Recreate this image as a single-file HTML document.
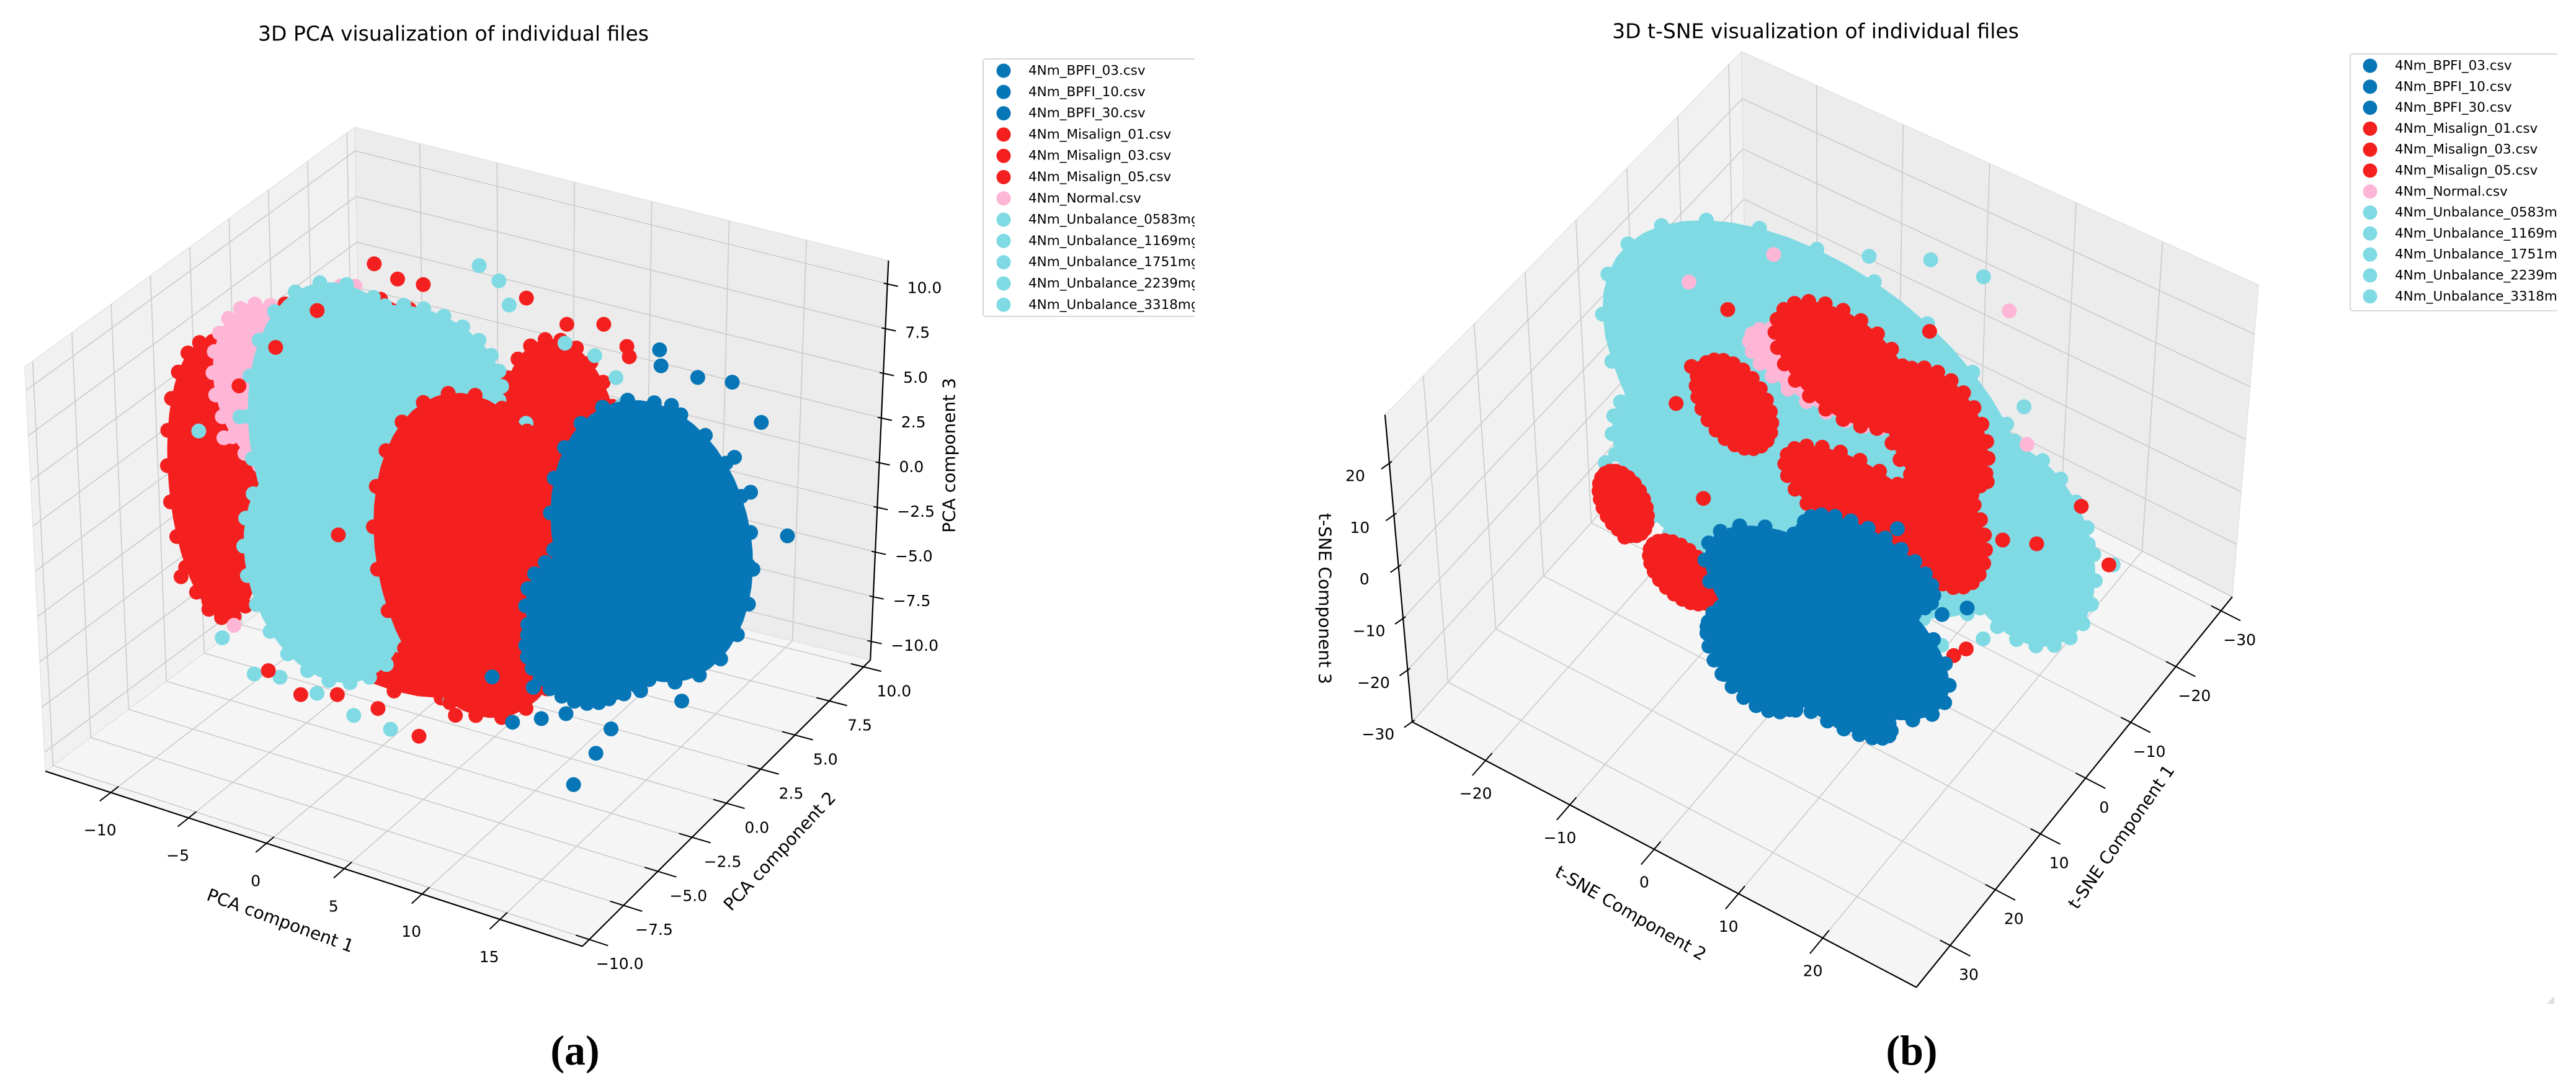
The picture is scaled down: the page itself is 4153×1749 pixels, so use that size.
<!DOCTYPE html>
<html>
<head>
<meta charset="utf-8">
<style>
html,body{margin:0;padding:0;background:#fff;}
svg{display:block;}
text{font-family:"DejaVu Sans","Liberation Sans",sans-serif;fill:#000;}
</style>
</head>
<body>
<svg id="fig" xmlns="http://www.w3.org/2000/svg" width="4153" height="1749" viewBox="0 0 4153 1749">
<defs>
<clipPath id="clipA"><rect x="0" y="0" width="1926" height="1749"/></clipPath>
<clipPath id="clipB"><rect x="2076" y="0" width="2046" height="1749"/></clipPath>
</defs>
<g id="panelA" clip-path="url(#clipA)"></g>
<g id="panelB" clip-path="url(#clipB)"></g>
<text x="927" y="1716" font-size="68" font-weight="bold" text-anchor="middle" style="font-family:'Liberation Serif',serif">(a)</text>
<text x="3082" y="1716" font-size="68" font-weight="bold" text-anchor="middle" style="font-family:'Liberation Serif',serif">(b)</text>
<polygon points="4118,1606 4106,1618 4118,1618" fill="#ddd"/>
</svg>
<script>
// ---------------- data ----------------
const seriesNames = ['4Nm_BPFI_03.csv','4Nm_BPFI_10.csv','4Nm_BPFI_30.csv','4Nm_Misalign_01.csv','4Nm_Misalign_03.csv','4Nm_Misalign_05.csv','4Nm_Normal.csv','4Nm_Unbalance_0583mg.csv','4Nm_Unbalance_1169mg.csv','4Nm_Unbalance_1751mg.csv','4Nm_Unbalance_2239mg.csv','4Nm_Unbalance_3318mg.csv'];
const seriesGroup = ['blue','blue','blue','red','red','red','pink','cyan','cyan','cyan','cyan','cyan'];
const groupColor = {blue:'#0776b6', red:'#f42020', pink:'#fdb6d6', cyan:'#7fdae4'};

// PCA panel
const pcaXTicks = [-10,-5,0,5,10,15];
const pcaXTickLabels = ['\u221210','\u22125','0','5','10','15'];
const pcaYTicks = [-10,-7.5,-5,-2.5,0,2.5,5,7.5,10];
const pcaYTickLabels = ['\u221210.0','\u22127.5','\u22125.0','\u22122.5','0.0','2.5','5.0','7.5','10.0'];
const pcaZTicks = [-10,-7.5,-5,-2.5,0,2.5,5,7.5,10];
const pcaZTickLabels = ['\u221210.0','\u22127.5','\u22125.0','\u22122.5','0.0','2.5','5.0','7.5','10.0'];
const pcaPlaneY = 0;
const pcaCoreSeries = ['red','red','red','red','pink','cyan','cyan','cyan','red','blue','blue','blue'];
const pcaCoreX = [-1.64,-12.96,-2.19,9.15,-9.19,-4.33,-5.95,0.53,3.75,15.07,11.3,10.22];
const pcaCoreZ = [0.37,-1.20,7.88,6.02,4.67,2.78,-4.48,8.30,-1.39,2.09,-3.39,-5.56];
const pcaCoreRX = [12.0,3.2,7.0,3.8,3.8,6.5,5.4,4.9,6.6,6.5,4.3,3.2];
const pcaCoreRZ = [10.5,7.6,3.4,5.7,4.6,8.8,6.1,3.1,8.8,7.6,3.8,2.3];
const pcaCoreLayer = [0,0,0,0,1,2,2,2,3,4,4,4];
const pcaBlueX = [15.34,15.45,17.76,19.92,21.81,23.69,21.27,21.27,20.19,18.84,10.22,11.67,12.64,6.17,8.06,9.68,14.53,7.52,4.83,10.22,13.99,16.15,20.19,17.22,9.14];
const pcaBlueZ = [12.66,11.81,11.72,11.97,10.21,4.43,6.25,2.24,-0.11,-1.78,-12.44,-10.37,-8.80,-9.98,-9.33,-8.67,-6.25,-7.74,-7.81,5.90,7.18,9.80,7.91,-6.18,-6.21];
const pcaRedX = [-2.56,0.51,-1.10,6.98,9.52,11.83,13.29,13.45,-6.22,-8.92,-11.34,-13.77,-14.31,-15.55,-13.77,-12.96,-9.96,-7.84,-5.41,-2.72,-0.02,2.40,4.83,5.90,6.98,10.22,11.56,12.10,13.72,1.59,-5.14];
const pcaRedZ = [13.14,12.73,12.65,13.52,12.68,13.23,12.36,11.83,9.70,7.03,4.34,0.21,-1.91,-7.17,-8.08,-8.65,-11.0,-11.81,-11.23,-11.35,-12.23,-10.5,-9.15,-6.60,-3.48,-2.13,1.25,6.73,6.74,6.50,-2.38];
const pcaCyanX = [4.02,5.26,5.90,9.41,11.29,12.64,13.02,15.61,-12.96,-10.91,-9.19,-6.76,-4.34,-1.91,2.02,-14.04,-11.34,6.98];
const pcaCyanZ = [14.60,14.06,12.88,11.62,11.38,10.49,9.05,8.34,-9.91,-11.41,-11.18,-11.48,-12.12,-12.30,-9.83,1.21,2.63,6.64];
const pcaPinkX = [-10.80,-4.71,-3.80,-7.57,-11.77,-12.42,-12.15,-11.34];
const pcaPinkZ = [8.56,11.40,11.62,7.73,3.29,1.22,-9.03,5.49];

// t-SNE panel
const tsneC1Ticks = [-30,-20,-10,0,10,20,30];
const tsneC1TickLabels = ['\u221230','\u221220','\u221210','0','10','20','30'];
const tsneC2Ticks = [-20,-10,0,10,20];
const tsneC2TickLabels = ['\u221220','\u221210','0','10','20'];
const tsneC3Ticks = [-30,-20,-10,0,10,20];
const tsneC3TickLabels = ['\u221230','\u221220','\u221210','0','10','20'];
const tsnePlaneC1 = 0.3;
const tsneCoreSeries = ['cyan','cyan','cyan','pink','red','red','red','red','red','red','red','blue','blue','blue','blue'];
const tsneCoreC2 = [-0.97,22.52,-16.62,0.01,1.97,12.73,3.92,13.71,-10.75,-17.60,-24.45,0.01,-8.80,4.90,0.01];
const tsneCoreC3 = [13.54,8.49,-9.51,22.24,26.43,21.81,1.59,4.11,8.38,-30.09,-22.34,-25.28,-39.57,-9.51,-39.80];
const tsneCoreR2 = [24.95,8.8,8.8,8.8,7.8,5.9,8.8,4.9,4.4,3.9,2.9,14.7,5.9,7.8,7.8];
const tsneCoreR3 = [33.0,18.5,14.5,6.6,10.6,11.9,7.9,10.6,7.9,5.3,5.9,14.5,9.2,6.6,4.6];
const tsneCoreLayer = [0,0,0,1,2,2,2,2,2,2,2,3,3,3,3];
const tsneRedC2 = [-26.90,-24.45,-25.92,-22.50,-16.62,-14.18,-10.75,12.73,15.18,16.64,29.37,32.79,24.47,20.56,-11.24,-15.65,11.75,18.60,-14.67,-17.60];
const tsneRedC3 = [-22.31,-28.94,-18.90,-20.78,-27.99,-31.98,-29.90,-23.73,-19.13,-16.65,21.22,12.72,10.05,7.60,26.46,11.74,40.83,17.26,-13.22,2.91];
const tsneCyanC2 = [-4.88,4.90,11.75,17.62,-17.60,-21.03,-22.98,-24.94,-26.41,-18.58,-12.71,22.52,21.54,30.34,33.28,27.90,24.47,18.60,13.71,9.80];
const tsneCyanC3 = [43.41,49.89,54.69,56.08,24.03,14.70,6.54,-5.58,-15.99,-24.27,-23.54,34.89,27.52,14.74,13.11,-0.42,-5.79,-13.10,-18.33,-22.76];
const tsneBlueC2 = [-14.67,-12.71,-8.80,-3.90,1.48,5.39,8.33,10.28,13.71,16.64,8.33,-3.90];
const tsneBlueC3 = [-38.30,-45.98,-46.83,-45.56,-43.25,-37.49,-27.24,-19.74,-12.39,-8.73,-0.18,-11.24];
const tsnePinkC2 = [-5.86,-15.65,20.56,23.00,-4.39,-8.80];
const tsnePinkC3 = [41.57,28.24,51.82,28.03,17.40,15.21];

// ---------------- geometry ----------------
const KX = 1.33, KY = 1.12;
const NS = 'http://www.w3.org/2000/svg';
const pcaBox = {'000':[55,1110],'100':[706,1362],'110':[1055,950],'010':[440,770],'001':[30,528],'101':[712,765],'111':[1077,375],'011':[430,183]};
const tsneBox = {'000':[556,504],'100':[151,1039],'110':[762,1421],'010':[1145,859],'001':[550,74],'101':[118,597],'111':[762,982],'011':[1177,410]};

function makeProj(box, rx, ry, rz, ox){
  return function(x,y,z){
    const u=(x-rx[0])/(rx[1]-rx[0]), v=(y-ry[0])/(ry[1]-ry[0]), w=(z-rz[0])/(rz[1]-rz[0]);
    let X=0,Y=0;
    for(const a of [0,1])for(const b of [0,1])for(const d of [0,1]){
      const wt=(a?u:1-u)*(b?v:1-v)*(d?w:1-w);
      const p=box[''+a+b+d]; X+=wt*p[0]; Y+=wt*p[1];
    }
    return [ox+X*KX, Y*KY];
  };
}
function el(tag, parent){ const e=document.createElementNS(NS,tag); parent.appendChild(e); return e; }
function line(parent,p,q,stroke,w){
  const e=el('line',parent);
  e.setAttribute('x1',p[0].toFixed(1));e.setAttribute('y1',p[1].toFixed(1));
  e.setAttribute('x2',q[0].toFixed(1));e.setAttribute('y2',q[1].toFixed(1));
  e.setAttribute('stroke',stroke);e.setAttribute('stroke-width',w);
  return e;
}
function poly(parent,pts,fill,stroke){
  const e=el('polygon',parent);
  e.setAttribute('points',pts.map(p=>p[0].toFixed(1)+','+p[1].toFixed(1)).join(' '));
  e.setAttribute('fill',fill); e.setAttribute('stroke',stroke||'none');
  return e;
}
function txt(parent,x,y,s,size,anchor,rot){
  const e=el('text',parent);
  e.setAttribute('x',x.toFixed(1)); e.setAttribute('y',y.toFixed(1));
  e.setAttribute('font-size',size); e.setAttribute('text-anchor',anchor||'middle');
  e.setAttribute('dominant-baseline','central');
  if(rot) e.setAttribute('transform','rotate('+rot+' '+x.toFixed(1)+' '+y.toFixed(1)+')');
  e.textContent=s; return e;
}
function dot(parent,p,color){
  const c=el('circle',parent);
  c.setAttribute('cx',p[0].toFixed(1)); c.setAttribute('cy',p[1].toFixed(1));
  c.setAttribute('r',12); c.setAttribute('fill',color);
  return c;
}
function drawCore(parent, projFn, color){
  const g=el('g',parent);
  const pts=[];
  for(let i=0;i<48;i++){ pts.push(projFn(Math.cos(i/48*2*Math.PI), Math.sin(i/48*2*Math.PI))); }
  const pg=poly(g,pts,color);
  
  
  for(let i=0;i<pts.length;i+=2){
    const c=dot(g,pts[i],color);
    
    
  }
  return g;
}
function drawLegend(parent, x0, y0, w, h, mx, tx, ys, dy){
  const g=el('g',parent);
  
  
  const r=el('rect',g);
  r.setAttribute('x',x0);r.setAttribute('y',y0);r.setAttribute('width',w);r.setAttribute('height',h);
  r.setAttribute('rx',4);r.setAttribute('fill','#fff');r.setAttribute('stroke','#d6d6d6');r.setAttribute('stroke-width',2);
  
  
  seriesNames.forEach((n,i)=>{
    const c=dot(g,[mx,ys+i*dy],groupColor[seriesGroup[i]]);
    c.setAttribute('r',11.5);
    
    
    const t=txt(g,tx,ys+i*dy,n,21.5,'start');
    
    
  });
}

// ---------------- PCA panel ----------------
(function(){
  const G=document.getElementById('panelA');
  const RX=[-14.2,20.3], RY=[-10.5,10.5], RZ=[-11.05,11.3];
  const P=makeProj(pcaBox,RX,RY,RZ,0);
  const t=txt(G,731,54,'3D PCA visualization of individual files',33);
  
  
  let p=poly(G,[P(RX[0],RY[0],RZ[0]),P(RX[0],RY[1],RZ[0]),P(RX[0],RY[1],RZ[1]),P(RX[0],RY[0],RZ[1])],'#f1f1f1','#dcdcdc');
  
  
  p=poly(G,[P(RX[0],RY[1],RZ[0]),P(RX[1],RY[1],RZ[0]),P(RX[1],RY[1],RZ[1]),P(RX[0],RY[1],RZ[1])],'#ececec','#dcdcdc');
  
  
  p=poly(G,[P(RX[0],RY[0],RZ[0]),P(RX[1],RY[0],RZ[0]),P(RX[1],RY[1],RZ[0]),P(RX[0],RY[1],RZ[0])],'#f5f5f5','#dcdcdc');
  
  
  const grid=el('g',G);
  
  
  const gc='#cbcbcb', gw=1.6;
  pcaYTicks.forEach(y=>{ line(grid,P(RX[0],y,RZ[0]),P(RX[0],y,RZ[1]),gc,gw); line(grid,P(RX[0],y,RZ[0]),P(RX[1],y,RZ[0]),gc,gw); });
  pcaZTicks.forEach(z=>{ line(grid,P(RX[0],RY[0],z),P(RX[0],RY[1],z),gc,gw); line(grid,P(RX[0],RY[1],z),P(RX[1],RY[1],z),gc,gw); });
  pcaXTicks.forEach(x=>{ line(grid,P(x,RY[1],RZ[0]),P(x,RY[1],RZ[1]),gc,gw); line(grid,P(x,RY[0],RZ[0]),P(x,RY[1],RZ[0]),gc,gw); });
  let a=line(G,P(RX[0],RY[0],RZ[0]),P(RX[1],RY[0],RZ[0]),'#000',2.2);
   
  a=line(G,P(RX[1],RY[0],RZ[0]),P(RX[1],RY[1],RZ[0]),'#000',2.2);
   
  a=line(G,P(RX[1],RY[1],RZ[0]),P(RX[1],RY[1],RZ[1]),'#000',2.2);
   
  const yr=RY[1]-RY[0], xr=RX[1]-RX[0];
  pcaXTicks.forEach((x,i)=>{
    line(G,P(x,RY[0]+0.025*yr,RZ[0]),P(x,RY[0]-0.035*yr,RZ[0]),'#000',2);
    const q=P(x,RY[0],RZ[0]);
    const l=txt(G,q[0]-13*KX,q[1]+54*KY,pcaXTickLabels[i],25);
     
  });
  pcaYTicks.forEach((y,i)=>{
    line(G,P(RX[1]-0.025*xr,y,RZ[0]),P(RX[1]+0.035*xr,y,RZ[0]),'#000',2);
    const q=P(RX[1],y,RZ[0]);
    const l=txt(G,q[0]+37*KX,q[1]+35*KY,pcaYTickLabels[i],25);
     
  });
  pcaZTicks.forEach((z,i)=>{
    const q=P(RX[1],RY[1],z);
    line(G,[q[0]-6,q[1]-1],[q[0]+17,q[1]+4],'#000',2);
    const l=txt(G,q[0]+24*KX,q[1]+6*KY,pcaZTickLabels[i],25,'start');
     
  });
  let al=txt(G,452,1484,'PCA component 1',28,'middle',20);
   
  al=txt(G,1257,1372,'PCA component 2',28,'middle',-47);
   
  al=txt(G,1530,734,'PCA component 3',28,'middle',-90);
   
  const scatter={pink:[pcaPinkX,pcaPinkZ,1],cyan:[pcaCyanX,pcaCyanZ,2],red:[pcaRedX,pcaRedZ,3],blue:[pcaBlueX,pcaBlueZ,4]};
  const pts=el('g',G);
  
  
  for(let L=0;L<5;L++){
    pcaCoreSeries.forEach((s,i)=>{
      if(pcaCoreLayer[i]!==L) return;
      const g=drawCore(pts,(c,sn)=>P(pcaCoreX[i]+pcaCoreRX[i]*c,pcaPlaneY,pcaCoreZ[i]+pcaCoreRZ[i]*sn),groupColor[s]);
      
      
    });
    Object.keys(scatter).forEach(s=>{
      const [xs,zs,lay]=scatter[s]; if(lay!==L) return;
      xs.forEach((x,j)=>{
        const c=dot(pts,P(x,pcaPlaneY,zs[j]),groupColor[s]);
        
        
      });
    });
  }
  drawLegend(G,1585,95,400,415,1618,1658,114,34.3);
})();

// ---------------- t-SNE panel ----------------
(function(){
  const G=document.getElementById('panelB');
  const R1=[-32.5,37.5], R2=[-28.7,31.1], R3=[-30,29.4];
  const P=makeProj(tsneBox,R1,R2,R3,2076);
  const t=txt(G,2927,50,'3D t-SNE visualization of individual files',33);
  
  
  let p=poly(G,[P(R1[0],R2[0],R3[0]),P(R1[1],R2[0],R3[0]),P(R1[1],R2[0],R3[1]),P(R1[0],R2[0],R3[1])],'#f1f1f1','#dcdcdc');
  
  
  p=poly(G,[P(R1[0],R2[0],R3[0]),P(R1[0],R2[1],R3[0]),P(R1[0],R2[1],R3[1]),P(R1[0],R2[0],R3[1])],'#ececec','#dcdcdc');
  
  
  p=poly(G,[P(R1[0],R2[0],R3[0]),P(R1[1],R2[0],R3[0]),P(R1[1],R2[1],R3[0]),P(R1[0],R2[1],R3[0])],'#f5f5f5','#dcdcdc');
  
  
  const grid=el('g',G);
  
  
  const gc='#cbcbcb', gw=1.6;
  tsneC1Ticks.forEach(x=>{ line(grid,P(x,R2[0],R3[0]),P(x,R2[0],R3[1]),gc,gw); line(grid,P(x,R2[0],R3[0]),P(x,R2[1],R3[0]),gc,gw); });
  tsneC2Ticks.forEach(y=>{ line(grid,P(R1[0],y,R3[0]),P(R1[0],y,R3[1]),gc,gw); line(grid,P(R1[0],y,R3[0]),P(R1[1],y,R3[0]),gc,gw); });
  tsneC3Ticks.forEach(z=>{ line(grid,P(R1[0],R2[0],z),P(R1[1],R2[0],z),gc,gw); line(grid,P(R1[0],R2[0],z),P(R1[0],R2[1],z),gc,gw); });
  let a=line(G,P(R1[0],R2[1],R3[0]),P(R1[1],R2[1],R3[0]),'#000',2.2);
   
  a=line(G,P(R1[1],R2[0],R3[0]),P(R1[1],R2[1],R3[0]),'#000',2.2);
   
  a=line(G,P(R1[1],R2[0],R3[0]),P(R1[1],R2[0],R3[1]),'#000',2.2);
   
  const r1=R1[1]-R1[0], r2=R2[1]-R2[0];
  tsneC1Ticks.forEach((x,i)=>{
    line(G,P(x,R2[1]-0.02*r2,R3[0]),P(x,R2[1]+0.04*r2,R3[0]),'#000',2);
    const q=P(x,R2[1],R3[0]);
    const l=txt(G,q[0]+30,q[1]+47,tsneC1TickLabels[i],25);
     
  });
  tsneC2Ticks.forEach((y,i)=>{
    line(G,P(R1[1]-0.02*r1,y,R3[0]),P(R1[1]+0.04*r1,y,R3[0]),'#000',2);
    const q=P(R1[1],y,R3[0]);
    const l=txt(G,q[0]-16,q[1]+53,tsneC2TickLabels[i],25);
     
  });
  tsneC3Ticks.forEach((z,i)=>{
    const q=P(R1[1],R2[0],z);
    line(G,[q[0]-13,q[1]+9],[q[0]+4,q[1]-3],'#000',2);
    const l=txt(G,q[0]-55,q[1]+20,tsneC3TickLabels[i],25);
     
  });
  let al=txt(G,2629,1472,'t-SNE Component 2',28,'middle',30);
   
  al=txt(G,3420,1349,'t-SNE Component 1',28,'middle',-55);
   
  al=txt(G,2136,965,'t-SNE Component 3',28,'middle',90);
   
  const scatter={cyan:[tsneCyanC2,tsneCyanC3,0],pink:[tsnePinkC2,tsnePinkC3,1],red:[tsneRedC2,tsneRedC3,2],blue:[tsneBlueC2,tsneBlueC3,3]};
  const pts=el('g',G);
  
  
  for(let L=0;L<4;L++){
    tsneCoreSeries.forEach((s,i)=>{
      if(tsneCoreLayer[i]!==L) return;
      const g=drawCore(pts,(c,sn)=>P(tsnePlaneC1,tsneCoreC2[i]+tsneCoreR2[i]*c,tsneCoreC3[i]+tsneCoreR3[i]*sn),groupColor[s]);
      
      
    });
    Object.keys(scatter).forEach(s=>{
      const [ys,zs,lay]=scatter[s]; if(lay!==L) return;
      ys.forEach((y,j)=>{
        const c=dot(pts,P(tsnePlaneC1,y,zs[j]),groupColor[s]);
        
        
      });
    });
  }
  drawLegend(G,3789,87,400,414,3821,3861,106,33.8);
})();
</script>
</body>
</html>
